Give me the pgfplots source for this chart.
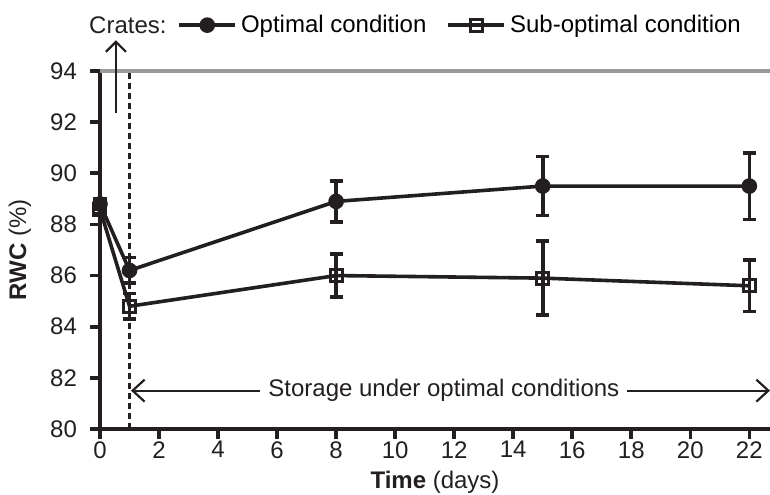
\documentclass[border=0pt]{standalone}
\usepackage{fontspec}
\setmainfont{Liberation Sans}
\usepackage{pgfplots}
\pgfplotsset{compat=1.18}
\usetikzlibrary{arrows.meta}
\definecolor{ink}{HTML}{231F20}
\definecolor{refgray}{HTML}{9A9A9A}

\begin{document}
\begin{tikzpicture}
\begin{axis}[
  scale only axis,
  width=335pt,height=179pt,
  xmin=0,xmax=22.7,ymin=80,ymax=94,
  clip=false,
  axis x line=bottom,axis y line=left,
  axis line style={-,line width=1.8pt,ink},
  xtick={0,2,...,22},ytick={80,82,...,94},
  tick align=outside,major tick length=5pt,
  tick style={line width=1.8pt,ink},
  /pgf/number format/assume math mode=true,
  tick label style={font=\fontsize{12}{14}\selectfont,text=ink},
  yticklabel style={xshift=-3pt},
  xticklabel style={yshift=0pt,inner ysep=1pt},
  label style={font=\fontsize{12}{14}\selectfont,text=ink},
  xlabel={\textbf{Time} (days)},
  ylabel={\textbf{RWC} (\%)},
  xlabel style={at={(rel axis cs:0.5,0)},yshift=-26.5pt,anchor=center,inner ysep=1pt},
  ylabel style={at={(rel axis cs:0,0.5)},yshift=40pt,anchor=center},
  legend columns=2,
  legend style={at={(rel axis cs:0.115,1.128)},anchor=west,draw=none,fill=none,
    font=\fontsize{12}{14}\selectfont,inner sep=0pt,
    /tikz/every even column/.append style={column sep=8pt}},
  legend image code/.code={
    \draw[#1,mark repeat=2,mark phase=2] plot coordinates {(0pt,0pt) (14pt,0pt) (28pt,0pt)};},
  every axis plot/.append style={line width=1.8pt,ink},
  error bars/error bar style={line width=1.8pt,ink},
  error bars/error mark options={rotate=90,mark size=3.3pt,line width=1.8pt,ink},
]
% reference line and storage marker
\draw[refgray,line width=1.6pt] (axis cs:0,94) -- (axis cs:22.7,94);
\draw[ink,densely dashed,line width=1.1pt] (axis cs:1,80) -- (axis cs:1,94);

\addplot[mark=*,mark size=3pt,mark options={solid,fill=ink},
  error bars/.cd,y dir=both,y explicit] coordinates {
  (0,88.8) +- (0,0.2)
  (1,86.2) +- (0,0.5)
  (8,88.9) +- (0,0.8)
  (15,89.5) +- (0,1.15)
  (22,89.5) +- (0,1.3)
};
\addlegendentry{Optimal condition}
\addplot[mark=square,mark size=3pt,mark options={solid,fill=white,line width=1.5pt},
  error bars/.cd,y dir=both,y explicit] coordinates {
  (0,88.6) +- (0,0.2)
  (1,84.8) +- (0,0.5)
  (8,86.0) +- (0,0.85)
  (15,85.9) +- (0,1.45)
  (22,85.6) +- (0,1.0)
};
\addlegendentry{Sub-optimal condition}

\node[anchor=east,font=\fontsize{12}{14}\selectfont,text=ink,inner sep=0pt]
  at (rel axis cs:0.1,1.128) {Crates:};
\draw[-{Straight Barb[length=5pt,width=10pt]},line width=1.1pt,ink]
  (axis cs:0.54,92.35) -- (axis cs:0.54,95.2);
\draw[{Straight Barb[length=6pt,width=11pt]}-{Straight Barb[length=6pt,width=11pt]},line width=1.1pt,ink]
  (axis cs:1.05,81.5) -- (axis cs:22.7,81.5);
\node[fill=white,inner xsep=4pt,inner ysep=1pt,font=\fontsize{12}{14}\selectfont,text=ink]
  at (axis cs:11.65,81.5) {Storage under optimal conditions};
\coordinate (bl) at (rel axis cs:0,0);
\coordinate (tr) at (rel axis cs:1,1);
\end{axis}
\pgfresetboundingbox
\path[use as bounding box] ([shift={(-50pt,-33pt)}]bl) rectangle ([shift={(0pt,35.5pt)}]tr);
\end{tikzpicture}
\end{document}
